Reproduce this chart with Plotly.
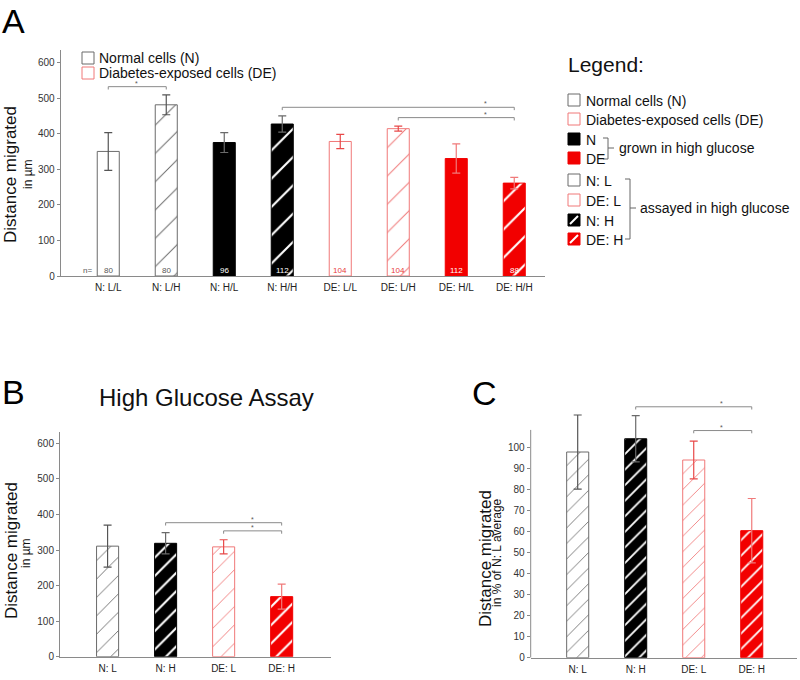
import plotly.graph_objects as go

W, H = 800, 680
FONT = "Liberation Sans, Arial, sans-serif"

# ---------------- data ----------------
a_cats = ["N: L/L", "N: L/H", "N: H/L", "N: H/H", "DE: L/L", "DE: L/H", "DE: H/L", "DE: H/H"]
a_vals = [350, 481, 375, 427, 378, 414, 330, 261]
a_errs = [53, 28, 28, 23, 20, 7, 41, 16]
a_n = [80, 80, 96, 112, 104, 104, 112, 88]
a_styles = ["N_open", "N_open_hatch", "N_solid", "N_solid_hatch",
            "DE_open", "DE_open_hatch", "DE_solid", "DE_solid_hatch"]
a_ticks = [0, 100, 200, 300, 400, 500, 600]
# brackets: (from index, to index, height, star position)
a_brackets = [(0, 1, 532, 0.49), (3, 7, 474, 6.5), (5, 7, 445, 6.5)]

b_cats = ["N: L", "N: H", "DE: L", "DE: H"]
b_vals = [311, 319, 309, 169]
b_errs = [59, 30, 20, 35]
b_styles = ["N_open_hatch", "N_solid_hatch", "DE_open_hatch", "DE_solid_hatch"]
b_ticks = [0, 100, 200, 300, 400, 500, 600]
b_brackets = [(1, 3, 377, 2.49), (2, 3, 354, 2.49)]

c_cats = ["N: L", "N: H", "DE: L", "DE: H"]
c_vals = [97.8, 104.1, 94.0, 60.4]
c_errs = [17.6, 11.0, 9.0, 15.3]
c_styles = ["N_open_hatch", "N_solid_hatch", "DE_open_hatch", "DE_solid_hatch"]
c_ticks = [0, 10, 20, 30, 40, 50, 60, 70, 80, 90, 100]
c_brackets = [(1, 3, 119.3, 2.48), (2, 3, 108.0, 2.48)]

# ---------------- styles ----------------
GREY = "#6b6b6b"
PINK = "#f07878"
RED = "#f20000"
STYLES = {
    "N_open":         dict(fill="white", line=GREY, hatch=None, err="#555555", ntext="#555555"),
    "N_open_hatch":   dict(fill="white", line=GREY, hatch=GREY, err="#555555", ntext="#555555"),
    "N_solid":        dict(fill="black", line="black", hatch=None, err="#6a6a6a", ntext="white"),
    "N_solid_hatch":  dict(fill="black", line="black", hatch="white", err="#6a6a6a", ntext="white"),
    "DE_open":        dict(fill="white", line=PINK, hatch=None, err="#e84848", ntext="#e83a3a"),
    "DE_open_hatch":  dict(fill="white", line=PINK, hatch=PINK, err="#e84848", ntext="#e83a3a"),
    "DE_solid":       dict(fill=RED, line=RED, hatch=None, err="#f07a7a", ntext="white"),
    "DE_solid_hatch": dict(fill=RED, line=RED, hatch="white", err="#f07a7a", ntext="white"),
}


def P(px, py):
    return px / W, 1 - py / H


fig = go.Figure()


def add_bars(vals, errs, styles, xa, ya, hsize, thin_sol, thick_sol):
    for i, (v, e, s) in enumerate(zip(vals, errs, styles)):
        st = STYLES[s]
        marker = dict(color=st["fill"], line=dict(color=st["line"], width=1))
        if st["hatch"] is not None:
            sol = thick_sol if st["hatch"] == "white" else thin_sol
            marker["pattern"] = dict(shape="/", fillmode="replace", bgcolor=st["fill"],
                                     fgcolor=st["hatch"], size=hsize, solidity=sol)
        fig.add_trace(go.Bar(
            x=[i], y=[v], width=0.38, marker=marker, xaxis=xa, yaxis=ya,
            error_y=dict(type="data", array=[e], color=st["err"], thickness=1.2, width=4),
            showlegend=False, hoverinfo="skip"))


add_bars(a_vals, a_errs, a_styles, "x", "y", 20, 0.05, 0.105)
add_bars(b_vals, b_errs, b_styles, "x2", "y2", 13, 0.07, 0.16)
add_bars(c_vals, c_errs, c_styles, "x3", "y3", 11, 0.078, 0.17)

# domains (pixel geometry of the reference)
A_x = [60.7 / W, 545 / W]
A_y = [1 - 276 / H, 1 - 50 / H]
B_x = [60 / W, 331 / W]
B_y = [1 - 656.7 / H, 1 - 431.7 / H]
C_x = [530.7 / W, 797 / W]
C_y = [1 - 657.7 / H, 1 - 392.7 / H]


def xax(domain, cats, rng, anchor):
    return dict(domain=domain, range=rng, anchor=anchor, tickmode="array",
                tickvals=list(range(len(cats))), ticktext=cats, ticks="outside", ticklen=2,
                tickcolor="rgba(0,0,0,0)", showline=True, linecolor="#8a8a8a", linewidth=1,
                showgrid=False, zeroline=False, tickfont=dict(size=10, color="#222", family=FONT),
                automargin=False, fixedrange=True)


def yax(domain, ticks, rng, anchor, showline=True):
    return dict(domain=domain, range=rng, anchor=anchor, tickmode="array", tickvals=ticks,
                ticks="outside", ticklen=3, tickcolor="#888", showline=showline,
                linecolor="#8a8a8a", linewidth=1, showgrid=False, zeroline=False,
                tickfont=dict(size=10, color="#333", family=FONT), automargin=False,
                fixedrange=True)


fig.update_layout(
    xaxis=xax(A_x, a_cats, [-0.82, 7.53], "y"),
    yaxis=yax(A_y, a_ticks, [0, 635], "x"),
    xaxis2=xax(B_x, b_cats, [-0.82, 3.85], "y2"),
    yaxis2=yax(B_y, b_ticks, [0, 633], "x2"),
    xaxis3=xax(C_x, c_cats, [-0.81, 3.78], "y3"),
    yaxis3=yax(C_y, c_ticks, [0, 126], "x3", showline=False),
    barmode="overlay",
    width=W, height=H,
    margin=dict(l=0, r=0, t=0, b=0),
    paper_bgcolor="white", plot_bgcolor="white",
    font=dict(family=FONT, color="#111"),
    template="none",
)

shapes = []
annotations = []

# y-axis line for panel C (only up to 108)
shapes.append(dict(type="line", xref="x3 domain", yref="y3", x0=0, x1=0, y0=0, y1=108.3,
                   line=dict(color="#8a8a8a", width=1)))


def add_brackets(brs, xr, yr, drop):
    for (i0, i1, h, sx) in brs:
        shapes.append(dict(type="path", xref=xr, yref=yr,
                           path=f"M {i0},{h - drop} L {i0},{h} L {i1},{h} L {i1},{h - drop}",
                           line=dict(color="#8a8a8a", width=1)))
        annotations.append(dict(x=sx, y=h, xref=xr, yref=yr, text="*", showarrow=False,
                                yanchor="bottom", yshift=-2,
                                font=dict(size=7, color="#555", family=FONT)))


add_brackets(a_brackets, "x", "y", 8)
add_brackets(b_brackets, "x2", "y2", 8)
add_brackets(c_brackets, "x3", "y3", 1.3)

# n labels in panel A
annotations.append(dict(x=-0.36, y=16, xref="x", yref="y", text="n=", showarrow=False,
                        font=dict(size=8, color="#555", family=FONT)))
for i, (n, s) in enumerate(zip(a_n, a_styles)):
    annotations.append(dict(x=i, y=16, xref="x", yref="y", text=str(n), showarrow=False,
                            font=dict(size=8, color=STYLES[s]["ntext"], family=FONT)))


def text(px, py, t, size, color="#111", xanchor="left", angle=0):
    x, y = P(px, py)
    annotations.append(dict(x=x, y=y, xref="paper", yref="paper", text=t, showarrow=False,
                            xanchor=xanchor, yanchor="middle", textangle=angle,
                            font=dict(size=size, color=color, family=FONT)))


def square(px, py, fill, line, diag=None, size=12):
    x0, y1 = P(px, py)
    x1, y0 = P(px + size, py + size)
    shapes.append(dict(type="rect", xref="paper", yref="paper", x0=x0, x1=x1, y0=y0, y1=y1,
                       fillcolor=fill, line=dict(color=line, width=1)))
    if diag:
        shapes.append(dict(type="line", xref="paper", yref="paper", x0=x0 + 2 / W, y0=y0 + 2 / H,
                           x1=x1 - 2 / W, y1=y1 - 2 / H, line=dict(color=diag, width=2)))


def path_px(pts, color="#666"):
    d = "M " + " L ".join(f"{px / W},{1 - py / H}" for px, py in pts)
    shapes.append(dict(type="path", xref="paper", yref="paper", path=d,
                       line=dict(color=color, width=1)))


# panel letters and titles
text(13, 21, "A", 34, "#000", "center")
text(13, 392, "B", 34, "#000", "center")
text(484, 393, "C", 34, "#000", "center")
text(206, 397, "High Glucose Assay", 24, "#111", "center")

# axis titles
text(11, 175, "Distance migrated", 17, "#111", "center", -90)
text(28, 174, "in µm", 12, "#111", "center", -90)
text(11, 551, "Distance migrated", 17, "#111", "center", -90)
text(26, 553, "in µm", 12, "#111", "center", -90)
text(485, 558, "Distance migrated", 17, "#111", "center", -90)
text(497, 553, "in % of N: L average", 12, "#111", "center", -90)

# inline legend in panel A
square(82, 52, "white", GREY)
text(97, 58, "Normal cells (N)", 14)
square(82, 67, "white", PINK)
text(97, 73, "Diabetes-exposed cells (DE)", 14)

# side legend
text(566, 64, "Legend:", 21)
leg_rows = [
    (100, "Normal cells (N)", "white", GREY, None),
    (119, "Diabetes-exposed cells (DE)", "white", PINK, None),
    (139, "N", "black", "black", None),
    (158, "DE", RED, RED, None),
    (180, "N: L", "white", GREY, None),
    (200, "DE: L", "white", PINK, None),
    (220, "N: H", "black", "black", "white"),
    (239, "DE: H", RED, RED, "white"),
]
for cy, label, fill, line, diag in leg_rows:
    square(568, cy - 6, fill, line, diag)
    text(584, cy + 1, label, 14)

path_px([(603, 138), (608, 138), (608, 159), (603, 159)])
path_px([(608, 148), (614, 148)])
text(617, 148, "grown in high glucose", 14)
path_px([(625, 179), (630, 179), (630, 239), (625, 239)])
path_px([(630, 208), (636, 208)])
text(638, 208, "assayed in high glucose", 14)

fig.update_layout(shapes=shapes, annotations=annotations)
fig.write_html("out.html", config={"displayModeBar": False},
               post_script="document.body.style.margin='0';document.body.style.overflow='hidden';")
